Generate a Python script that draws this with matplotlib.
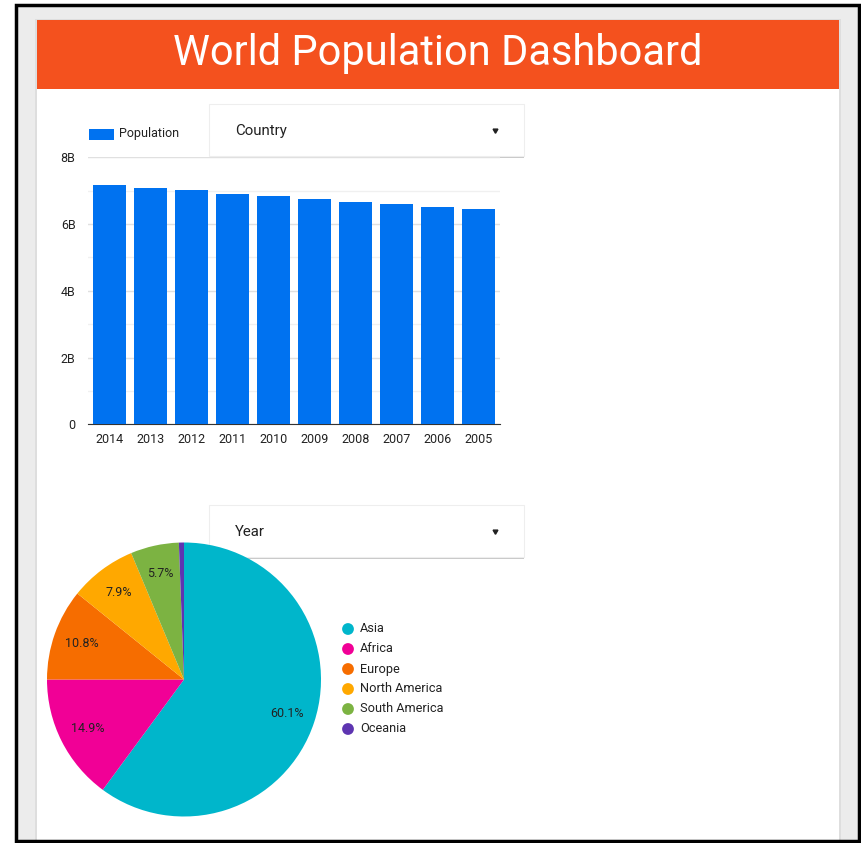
import matplotlib
matplotlib.use("Agg")
import matplotlib.pyplot as plt
from matplotlib.patches import Rectangle
from matplotlib.ticker import FuncFormatter, MultipleLocator

plt.rcParams["font.family"] = ["Roboto", "DejaVu Sans"]

# bar chart data (world population, billions)
years = ["2014", "2013", "2012", "2011", "2010", "2009", "2008", "2007", "2006", "2005"]
population = [7.16, 7.07, 7.01, 6.91, 6.85, 6.76, 6.67, 6.60, 6.51, 6.44]

# pie chart data (share of population, %)
regions = ["Asia", "Africa", "Europe", "North America", "South America", "Oceania"]
shares = [60.1, 14.9, 10.8, 7.9, 5.7, 0.6]
region_colors = ["#00b6cb", "#f10096", "#f66d00", "#ffa800", "#7cb342", "#5e35b1"]

W, H = 861, 843
fig = plt.figure(figsize=(W / 100, H / 100), dpi=100)
fig.patch.set_facecolor("white")


def frac(x0, y0, x1, y1):
    # pixel box (top-left origin) -> figure fraction rect
    return [x0 / W, 1 - y1 / H, (x1 - x0) / W, (y1 - y0) / H]


# background layer: page, card, header
bg = fig.add_axes([0, 0, 1, 1], zorder=0)
bg.set_xlim(0, W)
bg.set_ylim(H, 0)
bg.axis("off")
bg.add_patch(Rectangle((16, 5), 843, 836, facecolor="#ececec", edgecolor="none"))
bg.add_patch(Rectangle((35, 19), 806, 822, facecolor="#dedede", edgecolor="none"))
bg.add_patch(Rectangle((37, 20), 802, 821, facecolor="white", edgecolor="none"))
bg.add_patch(Rectangle((37, 20), 802, 69, facecolor="#f4511e", edgecolor="none"))
bg.add_patch(Rectangle((16, 5), 843, 836, facecolor="none", edgecolor="black", lw=2.5))
bg.text(438, 53, "World Population Dashboard", color="white", fontsize=30,
        ha="center", va="center")

# dropdown controls
for label, top in [("Country", 105), ("Year", 506)]:
    bg.add_patch(Rectangle((210, top + 1), 314, 52, facecolor="#c8c8c8", edgecolor="none"))
    bg.add_patch(Rectangle((209, top - 1), 315, 52, facecolor="white", edgecolor="#eeeeee", lw=0.8))
    bg.text(235, top + 26, label, fontsize=10.8, color="#212121", va="center", ha="left")
    bg.plot(495, top + 25, marker=(3, 0, 180), markersize=4, color="#212121")

# bar chart
ax = fig.add_axes(frac(88, 157.3, 500, 424.3), zorder=2)
ax.patch.set_alpha(0)
x = range(len(years))
ax.bar(x, population, width=0.81, color="#0072f0", zorder=3, label="Population")
ax.set_xlim(-0.52, 9.53)
ax.set_ylim(0, 8)
ax.yaxis.set_major_locator(MultipleLocator(2))
ax.yaxis.set_minor_locator(MultipleLocator(1))
ax.yaxis.set_major_formatter(FuncFormatter(lambda v, _: "0" if v == 0 else f"{v:.0f}B"))
ax.set_xticks(list(x))
ax.set_xticklabels(years)
ax.grid(axis="y", which="major", color="#e0e0e0", lw=1, zorder=0)
ax.grid(axis="y", which="minor", color="#f0f0f0", lw=1, zorder=0)
for s in ["left", "right", "top"]:
    ax.spines[s].set_visible(False)
ax.spines["bottom"].set_color("#333333")
ax.tick_params(axis="both", which="both", length=0, labelsize=9, colors="#222222")
ax.tick_params(axis="y", pad=9)
ax.tick_params(axis="x", pad=6)

# bar legend
bg.add_patch(Rectangle((88.5, 128.5), 25, 11, facecolor="#0072f0", edgecolor="none", zorder=5))
bg.text(119, 134, "Population", fontsize=9, color="#222222", va="center", ha="left", zorder=5)

# pie chart
cx, cy, r = 184, 679.5, 137
pax = fig.add_axes(frac(cx - r, cy - r, cx + r, cy + r), zorder=2)
wedges, texts, autotexts = pax.pie(
    shares,
    colors=region_colors,
    startangle=90,
    counterclock=False,
    radius=1,
    autopct=lambda p: f"{p:.1f}%" if p > 1 else "",
    pctdistance=0.79,
    wedgeprops=dict(linewidth=0),
    textprops=dict(fontsize=9, color="#222222"),
)
pax.set_xlim(-1, 1)
pax.set_ylim(-1, 1)
pax.set_aspect("equal")
pax.axis("off")

# pie legend
lg = fig.add_axes([0, 0, 1, 1], zorder=3)
lg.set_xlim(0, W)
lg.set_ylim(H, 0)
lg.axis("off")
for i, (name, col) in enumerate(zip(regions, region_colors)):
    yy = 629 + 20 * i
    lg.scatter(348, yy, s=72, color=col, edgecolors="none")
    lg.text(360, yy, name, fontsize=9.2, color="#222222", va="center", ha="left")

fig.savefig("out.png", dpi=100)
